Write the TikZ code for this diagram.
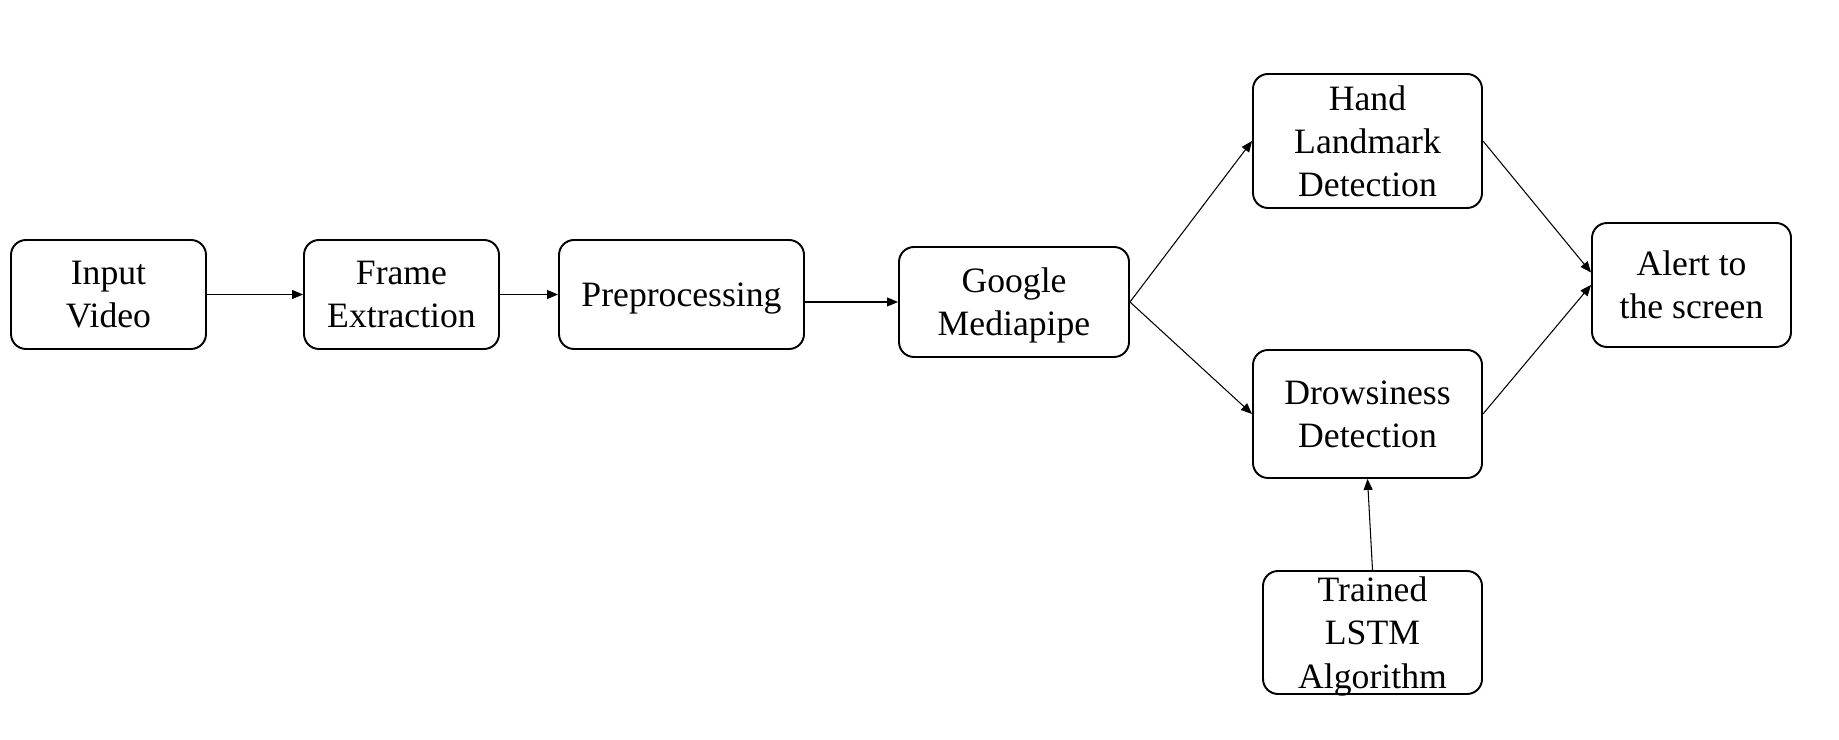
\documentclass[tikz,border=0pt]{standalone}
\usepackage{fontspec}
\setmainfont{Liberation Serif}
\usepackage{tikz}
\usetikzlibrary{positioning,calc,arrows.meta}

\tikzset{
  stage/.style={draw, rounded corners=3mm, line width=1.1pt, align=center,
                inner sep=0pt, text depth=-1.3mm, font=\fontsize{20.3}{24.6}\selectfont},
  flow/.style={-{Triangle[length=2.2mm,width=1.8mm]}, line width=0.6pt}
}

\begin{document}
\begin{tikzpicture}
                    \useasboundingbox (0,0) rectangle (36.78,14.78);
                    % pipeline
                    \node[stage, minimum width=3.9cm, minimum height=2.18cm] (in) at (2.17,8.89) {Input\\Video};
                    \node[stage, minimum width=3.9cm, minimum height=2.18cm] (frame) at (8.03,8.89) {Frame\\Extraction};
                    \node[stage, minimum width=4.9cm, minimum height=2.18cm] (prep) at (13.63,8.89) {Preprocessing};
                    \node[stage, minimum width=4.6cm, minimum height=2.2cm] (gmp) at (20.28,8.74) {Google\\Mediapipe};
                    % detection branches
                    \node[stage, minimum width=4.58cm, minimum height=2.68cm] (hand) at (27.35,11.96) {Hand\\Landmark\\Detection};
                    \node[stage, minimum width=4.58cm, minimum height=2.56cm] (drow) at (27.35,6.5) {Drowsiness\\Detection};
                    \node[stage, minimum width=4.38cm, minimum height=2.46cm] (lstm) at (27.45,2.13) {Trained\\LSTM\\Algorithm};
                    \node[stage, minimum width=3.98cm, minimum height=2.48cm] (alert) at (33.83,9.08) {Alert to\\the screen};

                    \draw[flow] (in) -- (frame);
                    \draw[flow] (frame) -- (prep);
                    \draw[flow] (prep.east |- gmp.west) -- (gmp.west);
                    \draw[flow] (gmp.east) -- (hand.west);
                    \draw[flow] (gmp.east) -- (drow.west);
                    \draw[flow] (hand.east) -- ([yshift=2.5mm]alert.west);
                    \draw[flow] (drow.east) -- (alert.west);
                    \draw[flow] (lstm.north) -- (drow.south);
                \end{tikzpicture}
\end{document}
